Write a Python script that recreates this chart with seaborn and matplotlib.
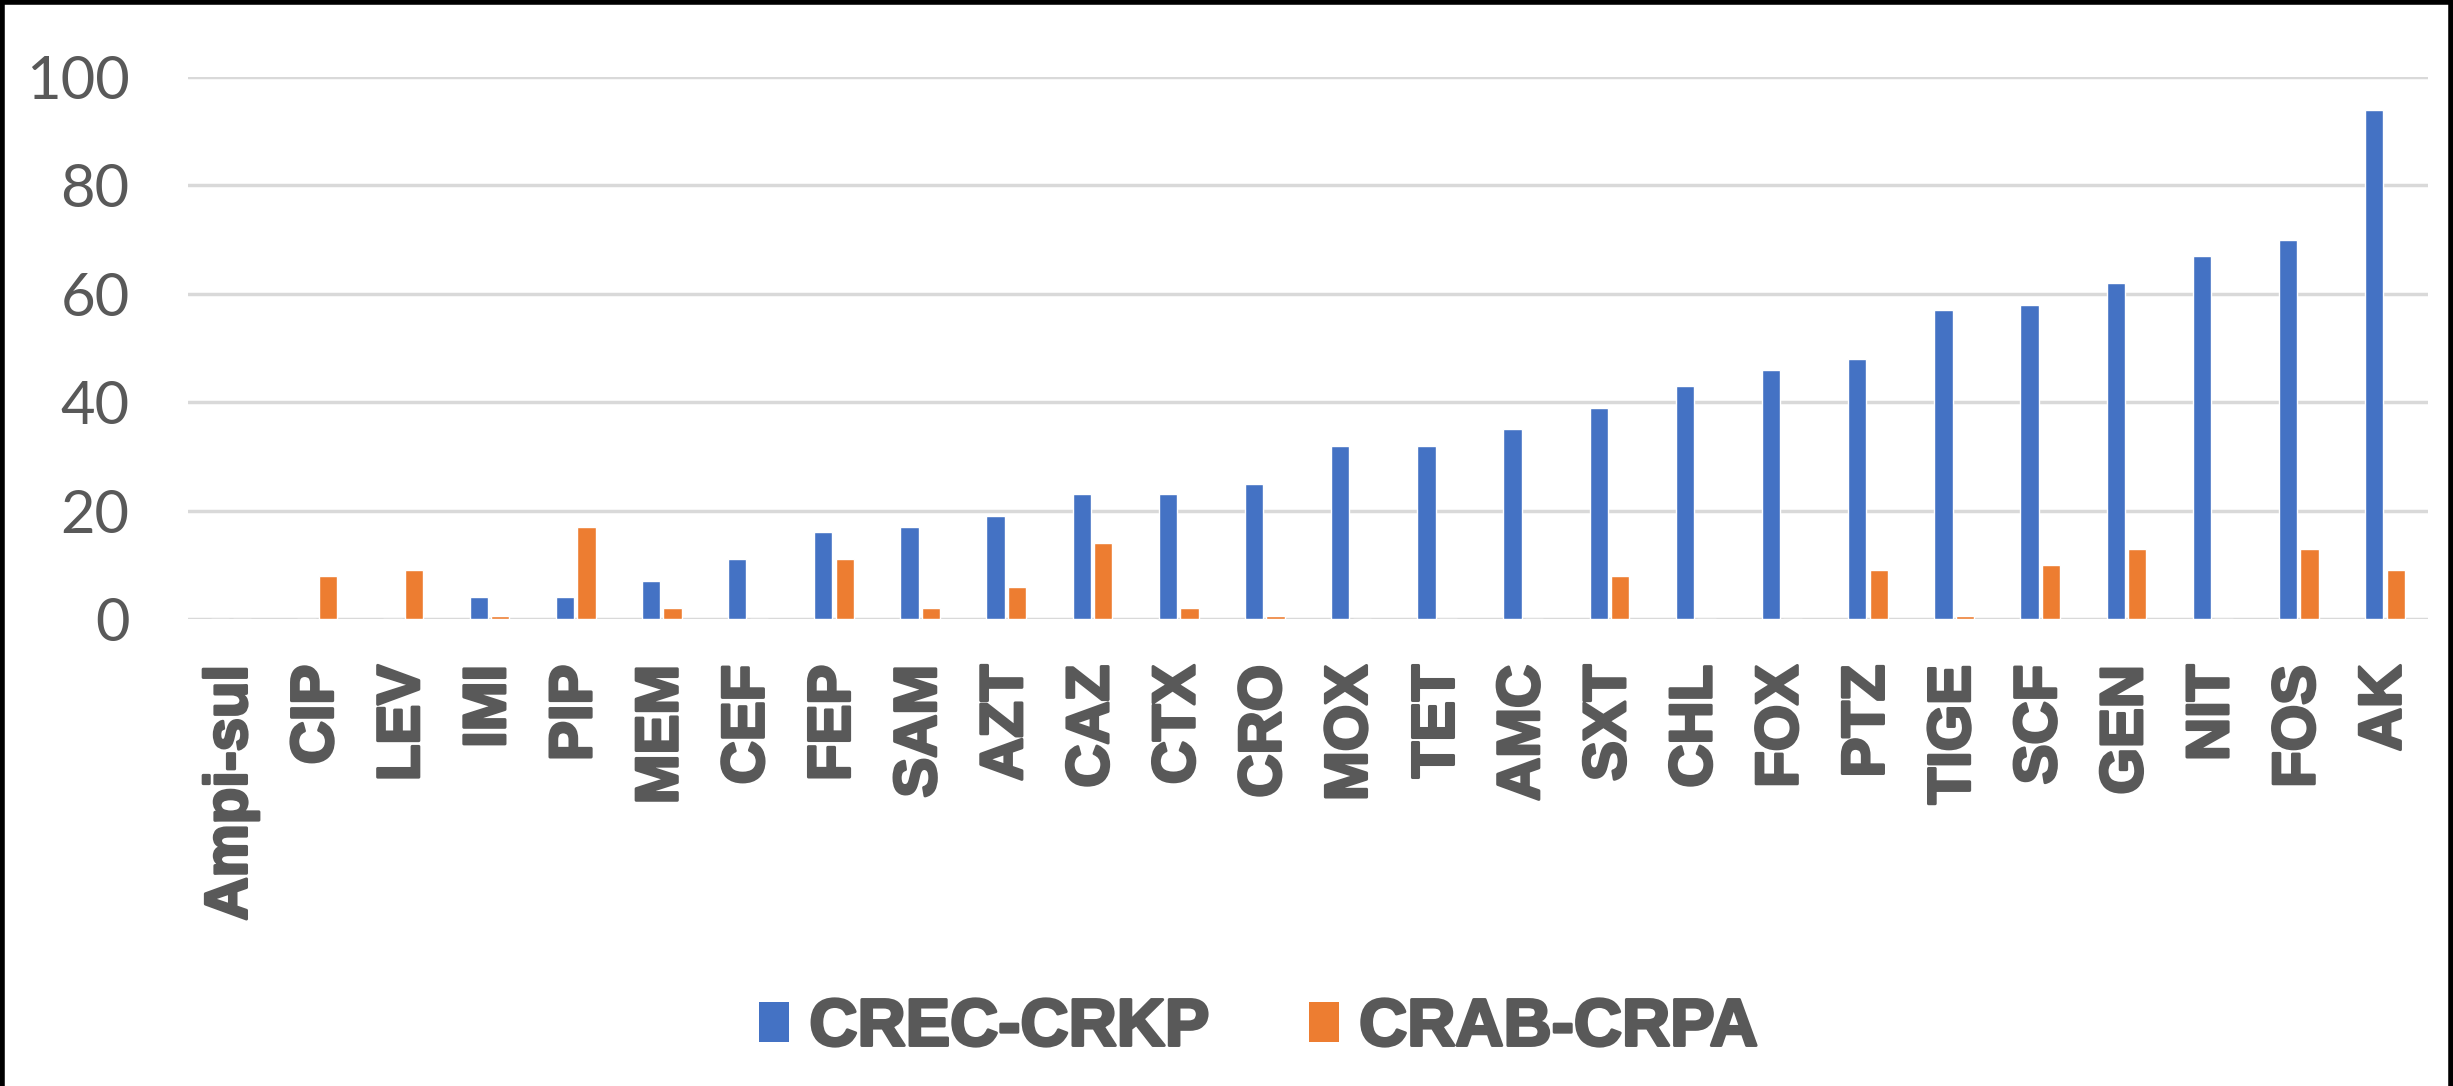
import matplotlib
matplotlib.use("Agg")
import matplotlib.pyplot as plt
import matplotlib.patheffects as pe
from matplotlib.lines import Line2D
from matplotlib.patches import Patch
import pandas as pd
import seaborn as sns

# antibiotic categories, in the order shown
drugs = ["Ampi-sul", "CIP", "LEV", "IMI", "PIP", "MEM", "CEF", "FEP", "SAM", "AZT",
         "CAZ", "CTX", "CRO", "MOX", "TET", "AMC", "SXT", "CHL", "FOX", "PTZ",
         "TIGE", "SCF", "GEN", "NIT", "FOS", "AK"]
crec_crkp = [0, 0, 0, 4, 4, 7, 11, 16, 17, 19, 23, 23, 25, 32, 32, 35, 39, 43, 46, 48,
             57, 58, 62, 67, 70, 94]
crab_crpa = [0, 8, 9, 0.5, 17, 2, 0, 11, 2, 6, 14, 2, 0.5, 0, 0, 0, 8, 0, 0, 9,
             0.5, 10, 13, 0, 13, 9]
series_names = ["CREC-CRKP", "CRAB-CRPA"]
y_ticks = [0, 20, 40, 60, 80, 100]

colors = {"CREC-CRKP": "#4472C4", "CRAB-CRPA": "#ED7D31"}
text_grey = "#595959"
heavy = [pe.withStroke(linewidth=2.2, foreground=text_grey)]

df = pd.DataFrame({
    "drug": drugs * 2,
    "value": crec_crkp + crab_crpa,
    "group": [series_names[0]] * len(drugs) + [series_names[1]] * len(drugs),
})

sns.set_style("white")
plt.rcParams["font.family"] = ["Liberation Sans", "DejaVu Sans"]

fig = plt.figure(figsize=(24.53, 10.86), dpi=100)
ax = fig.add_axes([0.0766, 0.430, 0.9132, 0.499])

sns.barplot(data=df, x="drug", y="value", hue="group", palette=colors,
            width=0.5, gap=0.15, saturation=1, legend=False, ax=ax, zorder=3)

ax.set_ylim(0, 100)
ax.set_yticks(y_ticks)
ax.yaxis.grid(True, color="#D9D9D9", linewidth=2.5, zorder=0)
ax.set_axisbelow(True)
for s in ax.spines.values():
    s.set_visible(False)
ax.set_xlabel("")
ax.set_ylabel("")

ax.tick_params(axis="y", length=0, pad=42, labelsize=43, labelcolor=text_grey)
for lab in ax.get_yticklabels():
    lab.set_family(["Lato", "DejaVu Sans"])
ax.tick_params(axis="x", length=0, pad=33, labelsize=43, labelcolor=text_grey)
ax.set_xticks(range(len(drugs)))
ax.set_xticklabels(drugs, rotation=90, fontweight="bold")
for lab in ax.get_xticklabels():
    lab.set_path_effects(heavy)

handles = [Patch(facecolor=colors[n], edgecolor="none") for n in series_names]
leg = fig.legend(handles, series_names, loc="center", bbox_to_anchor=(0.513, 0.053),
                 ncol=2, frameon=False, handlelength=0.45, handleheight=0.55,
                 handletextpad=0.3, columnspacing=1.5,
                 prop={"size": 48, "weight": "bold"})
for t in leg.get_texts():
    t.set_color(text_grey)
    t.set_path_effects(heavy)

# black frame on left, top and right edges
for xs, ys in [([0.001, 0.001], [0, 1]), ([0, 1], [0.998, 0.998]), ([0.999, 0.999], [0, 1])]:
    fig.add_artist(Line2D(xs, ys, transform=fig.transFigure, color="black", linewidth=4))

fig.savefig("out.png", dpi=100, facecolor="white")
